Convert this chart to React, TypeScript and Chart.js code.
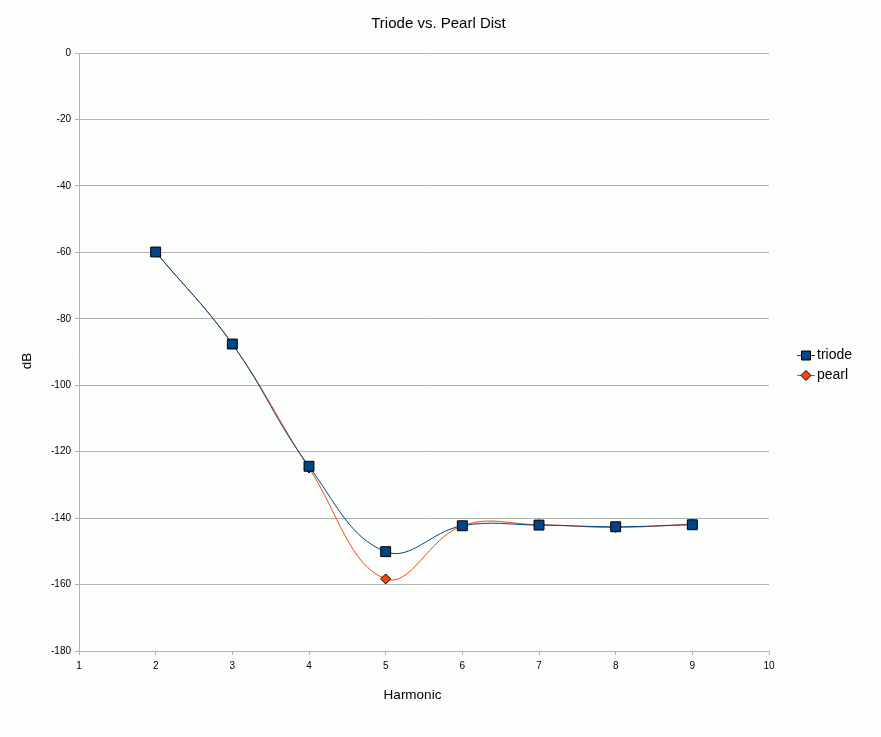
import React, { useEffect, useRef } from "react";
import { Chart, registerables } from "chart.js";

Chart.register(...registerables);

const chartTitle = "Triode vs. Pearl Dist";
const xTitle = "Harmonic";
const yTitle = "dB";
const harmonics = [2, 3, 4, 5, 6, 7, 8, 9];
const triode = [-59.9, -87.6, -124.4, -150.1, -142.3, -142.1, -142.6, -142.0];
const pearl = [-59.9, -87.6, -124.9, -158.3, -142.3, -142.0, -142.8, -141.8];
const seriesNames = ["triode", "pearl"];
const seriesColors = ["#004586", "#ff420e"];
const yMin = -180;
const yMax = 0;
const yStep = 20;
const xMin = 1;
const xMax = 10;

const FONT = "'Liberation Sans', Arial, sans-serif";

const decor = {
  id: "decor",
  beforeDraw(chart: any) {
    const ctx = chart.ctx;
    ctx.save();
    ctx.fillStyle = "#fcfefc";
    ctx.fillRect(0, 0, chart.width, chart.height);
    ctx.restore();
  },
  afterDraw(chart: any) {
    const ctx = chart.ctx;
    const area = chart.chartArea;
    ctx.save();
    ctx.fillStyle = "#000";
    ctx.textAlign = "center";
    ctx.textBaseline = "middle";
    ctx.font = `15px ${FONT}`;
    ctx.fillText(chartTitle, 438.5, 24);
    ctx.font = `13.5px ${FONT}`;
    ctx.fillText(xTitle, (area.left + area.right) / 2 - 11.5, 695);
    ctx.save();
    ctx.translate(27.5, 361);
    ctx.rotate(-Math.PI / 2);
    ctx.fillText(yTitle, 0, 0);
    ctx.restore();

    // legend
    const ds = chart.data.datasets;
    ds.forEach((d: any, i: number) => {
      const cy = 355.5 + i * 20;
      ctx.strokeStyle = d.borderColor;
      ctx.lineWidth = 1;
      ctx.beginPath();
      ctx.moveTo(797, cy);
      ctx.lineTo(815, cy);
      ctx.stroke();
      ctx.fillStyle = d.pointBackgroundColor;
      ctx.strokeStyle = "#000";
      ctx.beginPath();
      if (d.pointStyle === "rect") {
        ctx.rect(801.5, cy - 4.5, 9, 9);
      } else {
        ctx.moveTo(806, cy - 5);
        ctx.lineTo(811, cy);
        ctx.lineTo(806, cy + 5);
        ctx.lineTo(801, cy);
        ctx.closePath();
      }
      ctx.fill();
      ctx.stroke();
      ctx.fillStyle = "#000";
      ctx.textAlign = "left";
      ctx.font = `14px ${FONT}`;
      ctx.fillText(d.label, 817, cy);
    });
    ctx.restore();
  },
};

export default function App() {
  const ref = useRef<HTMLCanvasElement>(null);
  useEffect(() => {
    document.body.style.margin = "0";
    const mk = (vals: number[]) => harmonics.map((h, i) => ({ x: h, y: vals[i] }));
    const chart = new Chart(ref.current!, {
      type: "line",
      data: {
        datasets: [
          {
            label: seriesNames[0],
            data: mk(triode),
            borderColor: seriesColors[0],
            backgroundColor: seriesColors[0],
            pointBackgroundColor: seriesColors[0],
            pointBorderColor: "#000",
            pointBorderWidth: 1,
            pointStyle: "rect",
            pointRadius: 7,
            borderWidth: 1,
            tension: 0.4,
          },
          {
            label: seriesNames[1],
            data: mk(pearl),
            borderColor: seriesColors[1],
            backgroundColor: seriesColors[1],
            pointBackgroundColor: seriesColors[1],
            pointBorderColor: "#000",
            pointBorderWidth: 1,
            pointStyle: "rectRot",
            pointRadius: 5,
            borderWidth: 1,
            tension: 0.4,
          },
        ],
      },
      options: {
        responsive: false,
        animation: false,
        devicePixelRatio: 1,
        layout: { padding: { left: 0, top: 53, right: 112, bottom: 0 } },
        plugins: { legend: { display: false }, title: { display: false }, tooltip: { enabled: false } },
        scales: {
          x: {
            type: "linear",
            min: xMin,
            max: xMax,
            afterFit: (s: any) => { s.height = 86; },
            ticks: { stepSize: 1, color: "#000", font: { family: FONT, size: 10 }, padding: 5, maxRotation: 0 },
            grid: { drawOnChartArea: false, drawTicks: true, tickLength: 4, color: "#b3b3b3" },
            border: { color: "#b3b3b3" },
          },
          y: {
            type: "linear",
            min: yMin,
            max: yMax,
            afterFit: (s: any) => { s.width = 79; },
            ticks: { stepSize: yStep, color: "#000", font: { family: FONT, size: 10 }, padding: 4 },
            grid: { color: "#b3b3b3", tickLength: 4 },
            border: { color: "#b3b3b3" },
          },
        },
      },
      plugins: [decor],
    });
    return () => chart.destroy();
  }, []);
  return (
    <div style={{ width: 881, height: 737 }}>
      <canvas ref={ref} width={881} height={737} />
    </div>
  );
}
